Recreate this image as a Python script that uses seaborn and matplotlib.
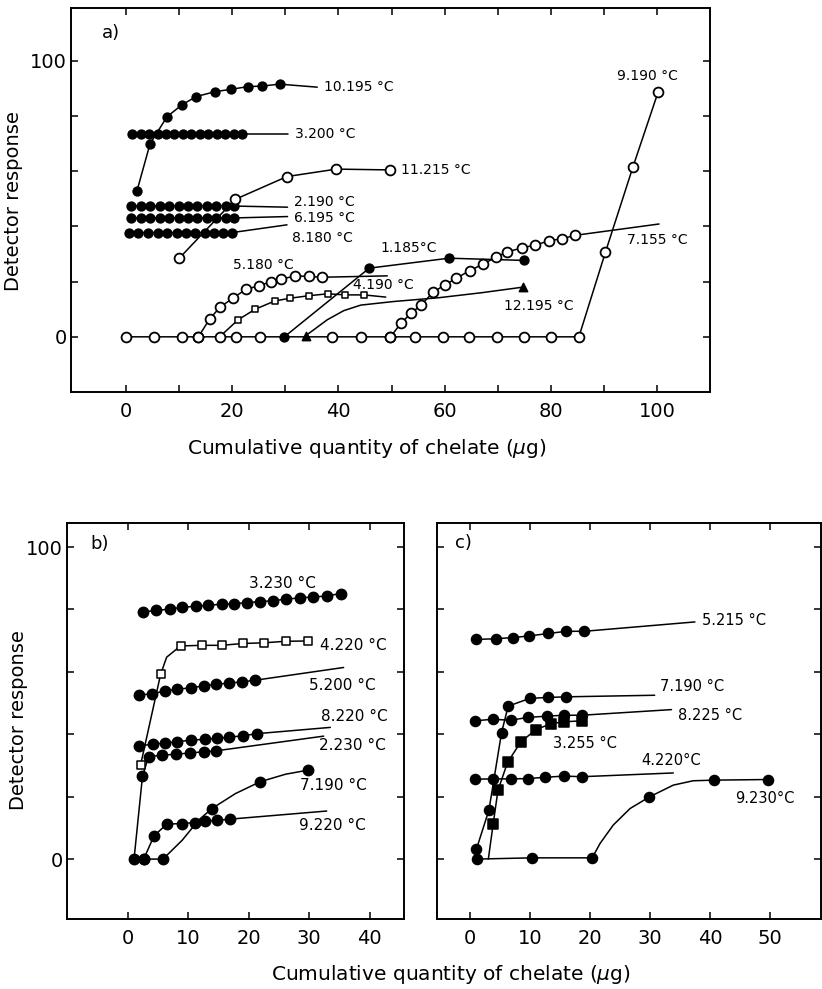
import numpy as np
import pandas as pd
import seaborn as sns
import matplotlib
matplotlib.use("Agg")
import matplotlib.pyplot as plt

# ---------------- data : panel a ----------------
A_10195_X = [2.0, 4.5, 7.7, 10.5, 13.2, 16.8, 19.7, 22.9, 25.6, 28.9]
A_10195_Y = [52.7, 70.0, 79.8, 84.1, 87.1, 88.9, 89.7, 90.7, 90.9, 91.6]
A_10195_TAIL = (36.0, 90.5)

A_3200_X = [1.1, 2.7, 4.3, 5.9, 7.5, 9.1, 10.7, 12.3, 13.9, 15.5, 17.1, 18.7, 20.3, 21.8]
A_3200_Y = [73.4, 73.4, 73.4, 73.4, 73.4, 73.4, 73.4, 73.4, 73.4, 73.4, 73.4, 73.4, 73.4, 73.4]
A_3200_TAIL = (30.4, 73.4)

A_2190_X = [0.9, 2.7, 4.5, 6.3, 8.1, 9.9, 11.7, 13.4, 15.2, 17.0, 18.8, 20.4]
A_2190_Y = [47.4, 47.4, 47.4, 47.4, 47.4, 47.4, 47.4, 47.4, 47.4, 47.4, 47.4, 47.4]
A_2190_TAIL = (30.4, 47.0)

A_6195_X = [0.9, 2.7, 4.5, 6.3, 8.1, 9.9, 11.7, 13.4, 15.2, 17.0, 18.8, 20.4]
A_6195_Y = [43.1, 43.1, 43.1, 43.1, 43.1, 43.1, 43.1, 43.1, 43.1, 43.1, 43.1, 43.1]
A_6195_TAIL = (30.4, 43.6)

A_8180_X = [0.5, 2.3, 4.1, 5.9, 7.7, 9.5, 11.3, 13.0, 14.8, 16.6, 18.3, 20.0]
A_8180_Y = [37.8, 37.8, 37.8, 37.8, 37.8, 37.8, 37.8, 37.8, 37.8, 37.8, 37.8, 37.8]
A_8180_TAIL = (30.3, 40.6)

A_11215_X = [10.0, 20.5, 30.3, 39.6, 49.8]
A_11215_Y = [28.5, 49.8, 58.1, 60.8, 60.5]

A_9190_X = [0.0, 5.2, 10.5, 13.6, 17.6, 20.7, 25.3, 38.8, 44.3, 49.8, 54.5, 59.6,
            64.6, 69.8, 75.0, 80.1, 85.3, 90.3, 95.5, 100.2]
A_9190_Y = [0, 0, 0, 0, 0, 0, 0, 0, 0, 0, 0, 0, 0, 0, 0, 0, 0, 30.7, 61.7, 88.6]

A_5180_X = [13.6, 15.7, 17.7, 20.1, 22.6, 25.1, 27.2, 29.2, 31.9, 34.4, 36.9]
A_5180_Y = [0.0, 6.4, 10.8, 14.0, 17.3, 18.5, 20.0, 20.9, 22.1, 21.9, 21.6]
A_5180_TAIL = (49.2, 22.1)

A_4190_X = [21.1, 24.3, 28.0, 30.9, 34.4, 38.0, 41.3, 44.8]
A_4190_Y = [6.2, 10.0, 13.0, 14.0, 14.9, 15.6, 15.2, 15.2]
A_4190_LX = [17.6, 21.1, 24.3, 28.0, 30.9, 34.4, 38.0, 41.3, 44.8]
A_4190_LY = [0.0, 6.2, 10.0, 13.0, 14.0, 14.9, 15.6, 15.2, 15.2]
A_4190_TAIL = (48.9, 14.4)

A_1185_X = [29.8, 45.8, 60.8, 75.0]
A_1185_Y = [0.0, 24.9, 28.5, 27.7]

A_12195_X = [33.8, 74.7]
A_12195_Y = [0.4, 18.0]
A_12195_LX = [33.8, 35.3, 37.9, 41.0, 44.2, 50.4, 59.0, 67.0, 74.7]
A_12195_LY = [0.4, 2.5, 6.2, 9.5, 11.5, 12.8, 14.2, 16.0, 18.0]

A_7155_X = [49.8, 51.8, 53.7, 55.6, 57.8, 60.0, 62.2, 64.7, 67.3, 69.6, 71.8, 74.5,
            77.1, 79.7, 82.2, 84.6]
A_7155_Y = [0.0, 5.0, 8.6, 11.6, 16.1, 18.8, 21.2, 24.0, 26.4, 28.8, 30.8, 32.2,
            33.3, 34.8, 35.6, 36.8]
A_7155_TAIL = (100.4, 40.9)

# ---------------- data : panel b ----------------
B_3230_X = [2.5, 4.7, 6.9, 9.0, 11.2, 13.3, 15.5, 17.5, 19.7, 21.9, 24.0, 26.2,
            28.4, 30.7, 32.9, 35.2]
B_3230_Y = [79.2, 79.7, 80.1, 80.7, 81.0, 81.3, 81.7, 81.8, 82.2, 82.5, 82.8, 83.3,
            83.7, 84.0, 84.3, 85.1]

B_4220_X = [2.1, 5.4, 8.7, 12.2, 15.5, 19.1, 22.5, 26.1, 29.8]
B_4220_Y = [30.3, 59.2, 68.3, 68.5, 68.5, 69.1, 69.3, 69.8, 69.9]
B_4220_LX = [2.1, 5.4, 6.4, 8.7, 12.2, 15.5, 19.1, 22.5, 26.1, 29.8]
B_4220_LY = [30.3, 59.2, 64.7, 68.3, 68.5, 68.5, 69.1, 69.3, 69.8, 69.9]

B_5200_X = [1.8, 3.9, 6.1, 8.1, 10.4, 12.6, 14.6, 16.7, 18.9, 21.0]
B_5200_Y = [52.5, 53.0, 53.8, 54.4, 54.9, 55.5, 56.0, 56.4, 56.8, 57.3]
B_5200_TAIL = (35.7, 61.4)

B_8220_X = [1.9, 4.1, 6.2, 8.1, 10.4, 12.7, 14.8, 16.8, 19.0, 21.4]
B_8220_Y = [36.3, 36.8, 37.2, 37.6, 38.1, 38.4, 38.7, 39.1, 39.5, 40.2]
B_8220_TAIL = (33.5, 42.2)

B_2230_X = [1.0, 2.4, 3.4, 5.7, 7.9, 10.2, 12.6, 14.6]
B_2230_Y = [0.0, 26.6, 32.8, 33.3, 33.6, 34.0, 34.4, 34.7]
B_2230_TAIL = (32.4, 39.4)

B_7190_X = [2.6, 5.8, 13.9, 21.9, 29.8]
B_7190_Y = [0.0, 0.0, 16.2, 24.8, 28.5]
B_7190_LX = [2.6, 5.8, 9.0, 11.7, 13.9, 17.8, 21.9, 26.1, 29.8]
B_7190_LY = [0.0, 0.0, 6.1, 12.5, 16.2, 21.0, 24.8, 27.2, 28.5]

B_9220_X = [2.6, 4.3, 6.4, 9.0, 11.1, 12.8, 14.8, 16.9]
B_9220_Y = [0.0, 7.4, 11.2, 11.4, 11.7, 12.2, 12.4, 12.8]
B_9220_TAIL = (32.9, 15.4)

# ---------------- data : panel c ----------------
C_5215_X = [1.1, 4.3, 7.2, 9.9, 13.1, 16.1, 19.1]
C_5215_Y = [70.4, 70.6, 71.0, 71.5, 72.3, 73.0, 73.0]
C_5215_TAIL = (37.5, 76.0)

C_7190_X = [1.1, 3.2, 5.3, 6.4, 10.0, 13.1, 16.1]
C_7190_Y = [3.1, 15.7, 40.5, 49.0, 51.5, 51.8, 52.0]
C_7190_TAIL = (30.8, 52.5)

C_8225_X = [0.8, 3.8, 6.8, 9.7, 12.8, 15.7, 18.7]
C_8225_Y = [44.3, 44.8, 44.5, 45.4, 45.8, 46.1, 46.1]
C_8225_TAIL = (33.6, 47.9)

C_3255_X = [3.9, 4.7, 6.3, 8.5, 11.0, 13.6, 15.7, 18.7]
C_3255_Y = [11.2, 22.0, 31.0, 37.5, 41.5, 43.4, 44.0, 44.3]
C_3255_LX = [3.1, 3.9, 4.7, 6.3, 8.5, 11.0, 13.6, 15.7, 18.7]
C_3255_LY = [0.0, 11.2, 22.0, 31.0, 37.5, 41.5, 43.4, 44.0, 44.3]

C_4220_X = [0.8, 3.8, 6.8, 9.7, 12.5, 15.7, 18.7]
C_4220_Y = [25.6, 25.7, 25.7, 25.8, 26.2, 26.6, 26.4]
C_4220_TAIL = (33.9, 27.6)

C_9230_X = [1.2, 10.4, 20.4, 29.9, 40.7, 49.7]
C_9230_Y = [0.0, 0.4, 0.4, 19.9, 25.3, 25.5]
C_9230_LX = [1.2, 10.4, 20.4, 21.7, 23.9, 26.7, 29.9, 33.9, 37.2, 40.7, 49.7]
C_9230_LY = [0.0, 0.4, 0.4, 5.0, 10.9, 16.2, 19.9, 23.7, 25.1, 25.3, 25.5]

# tick labels
A_XTICKS = [0, 10, 20, 30, 40, 50, 60, 70, 80, 90, 100]
A_XTICKLABELS = ["0", "", "20", "", "40", "", "60", "", "80", "", "100"]
Y_TICKS = [0, 20, 40, 60, 80, 100]
Y_TICKLABELS = ["0", "", "", "", "", "100"]
B_XTICKS = [0, 10, 20, 30, 40]
C_XTICKS = [0, 10, 20, 30, 40, 50]

# ---------------- style ----------------
sns.set_theme(style="ticks")
plt.rcParams.update({
    "font.family": ["DejaVu Sans"],
    "axes.edgecolor": "black",
    "axes.linewidth": 1.4,
    "text.color": "black",
    "axes.labelcolor": "black",
    "xtick.color": "black",
    "ytick.color": "black",
    "xtick.direction": "in",
    "ytick.direction": "in",
    "xtick.top": True,
    "ytick.right": True,
    "xtick.major.size": 5,
    "ytick.major.size": 5,
    "xtick.major.width": 1.1,
    "ytick.major.width": 1.1,
    "xtick.major.pad": 7,
    "ytick.major.pad": 3,
    "xtick.labelsize": 14,
    "ytick.labelsize": 14,
})

W, H = 822, 989
fig = plt.figure(figsize=(W / 100, H / 100), dpi=100)


def rect(l, r, t, b):
    return [l / W, 1 - b / H, (r - l) / W, (b - t) / H]


axA = fig.add_axes(rect(71, 710, 8, 392))
axB = fig.add_axes(rect(67, 404, 523, 919))
axC = fig.add_axes(rect(437, 821, 523, 919))

LW = 1.1


def draw(ax, x, y, marker, fill, size, lx=None, ly=None, tail=None, mew=1.1):
    line_x = list(lx if lx is not None else x)
    line_y = list(ly if ly is not None else y)
    if tail is not None:
        line_x.append(tail[0])
        line_y.append(tail[1])
    sns.lineplot(x=line_x, y=line_y, sort=False, estimator=None, color="black",
                 linewidth=LW, ax=ax, zorder=2)
    sns.scatterplot(x=x, y=y, marker=marker, s=size,
                    color=("black" if fill else "white"), edgecolor="black",
                    linewidth=mew, ax=ax, zorder=3, legend=False)


def label(ax, x, y, s, fs):
    ax.text(x, y, s, fontsize=fs, va="center", ha="left", zorder=4)


# ---------------- panel a ----------------
fa = 10
FC, OC = 40, 50
draw(axA, A_9190_X, A_9190_Y, "o", False, OC, mew=1.3)
draw(axA, A_10195_X, A_10195_Y, "o", True, FC, tail=A_10195_TAIL)
draw(axA, A_3200_X, A_3200_Y, "o", True, FC, tail=A_3200_TAIL)
draw(axA, A_2190_X, A_2190_Y, "o", True, FC, tail=A_2190_TAIL)
draw(axA, A_6195_X, A_6195_Y, "o", True, FC, tail=A_6195_TAIL)
draw(axA, A_8180_X, A_8180_Y, "o", True, FC, tail=A_8180_TAIL)
draw(axA, A_11215_X, A_11215_Y, "o", False, OC, mew=1.3)
draw(axA, A_5180_X, A_5180_Y, "o", False, OC, tail=A_5180_TAIL, mew=1.3)
draw(axA, A_4190_X, A_4190_Y, "s", False, 18, lx=A_4190_LX, ly=A_4190_LY, tail=A_4190_TAIL)
draw(axA, A_1185_X, A_1185_Y, "o", True, FC)
draw(axA, A_12195_X, A_12195_Y, "^", True, 36, lx=A_12195_LX, ly=A_12195_LY)
draw(axA, A_7155_X, A_7155_Y, "o", False, OC, tail=A_7155_TAIL, mew=1.3)

label(axA, 37.2, 90.5, "10.195 °C", fa)
label(axA, 31.8, 73.4, "3.200 °C", fa)
label(axA, 51.8, 60.3, "11.215 °C", fa)
label(axA, 31.6, 48.8, "2.190 °C", fa)
label(axA, 31.6, 43.2, "6.195 °C", fa)
label(axA, 31.3, 36.0, "8.180 °C", fa)
label(axA, 20.2, 26.0, "5.180 °C", fa)
label(axA, 47.9, 32.2, "1.185°C", fa)
label(axA, 42.7, 18.8, "4.190 °C", fa)
label(axA, 71.2, 11.2, "12.195 °C", fa)
label(axA, 94.3, 35.1, "7.155 °C", fa)
label(axA, 92.4, 94.5, "9.190 °C", fa)
axA.text(-4.6, 110, "a)", fontsize=13, va="center", ha="left")

axA.set_xlim(-10.4, 110)
axA.set_ylim(-20, 119.2)
axA.set_xticks(A_XTICKS)
axA.set_xticklabels(A_XTICKLABELS)
axA.set_yticks(Y_TICKS)
axA.set_yticklabels(Y_TICKLABELS)

# ---------------- panel b ----------------
fb = 11
FB = 55
draw(axB, B_3230_X, B_3230_Y, "o", True, FB)
draw(axB, B_5200_X, B_5200_Y, "o", True, FB, tail=B_5200_TAIL)
draw(axB, B_8220_X, B_8220_Y, "o", True, FB, tail=B_8220_TAIL)
draw(axB, B_2230_X, B_2230_Y, "o", True, FB, tail=B_2230_TAIL)
draw(axB, B_7190_X, B_7190_Y, "o", True, FB, lx=B_7190_LX, ly=B_7190_LY)
draw(axB, B_9220_X, B_9220_Y, "o", True, FB, tail=B_9220_TAIL)
draw(axB, B_4220_X, B_4220_Y, "s", False, 26, lx=B_4220_LX, ly=B_4220_LY)

label(axB, 20.0, 88.3, "3.230 °C", fb)
label(axB, 31.8, 68.5, "4.220 °C", fb)
label(axB, 29.9, 55.7, "5.200 °C", fb)
label(axB, 32.0, 45.6, "8.220 °C", fb)
label(axB, 31.6, 36.5, "2.230 °C", fb)
label(axB, 28.5, 23.7, "7.190 °C", fb)
label(axB, 28.3, 10.9, "9.220 °C", fb)
axB.text(-6.2, 101, "b)", fontsize=13, va="center", ha="left")

axB.set_xlim(-10.1, 45.7)
axB.set_ylim(-19.2, 107.7)
axB.set_xticks(B_XTICKS)
axB.set_yticks(Y_TICKS)
axB.set_yticklabels(Y_TICKLABELS)

# ---------------- panel c ----------------
fc = 10.5
FCc = 52
draw(axC, C_5215_X, C_5215_Y, "o", True, FCc, tail=C_5215_TAIL)
draw(axC, C_7190_X, C_7190_Y, "o", True, FCc, tail=C_7190_TAIL)
draw(axC, C_8225_X, C_8225_Y, "o", True, FCc, tail=C_8225_TAIL)
draw(axC, C_4220_X, C_4220_Y, "o", True, FCc, tail=C_4220_TAIL)
draw(axC, C_9230_X, C_9230_Y, "o", True, FCc, lx=C_9230_LX, ly=C_9230_LY)
draw(axC, C_3255_X, C_3255_Y, "s", True, 42, lx=C_3255_LX, ly=C_3255_LY)

label(axC, 38.6, 76.5, "5.215 °C", fc)
label(axC, 31.7, 55.2, "7.190 °C", fc)
label(axC, 34.7, 46.1, "8.225 °C", fc)
label(axC, 13.9, 37.2, "3.255 °C", fc)
label(axC, 28.6, 31.7, "4.220°C", fc)
label(axC, 44.2, 19.4, "9.230°C", fc)
axC.text(-2.5, 101.3, "c)", fontsize=13, va="center", ha="left")

axC.set_xlim(-5.45, 58.5)
axC.set_ylim(-19.2, 107.7)
axC.set_xticks(C_XTICKS)
axC.set_yticks(Y_TICKS)
axC.set_yticklabels([])

for ax in (axA, axB, axC):
    ax.set_xlabel("")
    ax.set_ylabel("")

# axis titles
fig.text(367 / W, 1 - 449 / H, "Cumulative quantity of chelate ($\\mu$g)",
         fontsize=14.5, ha="center", va="center")
fig.text(451 / W, 1 - 975 / H, "Cumulative quantity of chelate ($\\mu$g)",
         fontsize=14.5, ha="center", va="center")
fig.text(14 / W, 1 - 201 / H, "Detector response", fontsize=14,
         rotation=90, ha="center", va="center")
fig.text(18 / W, 1 - 720 / H, "Detector response", fontsize=14,
         rotation=90, ha="center", va="center")

fig.savefig("out.png", dpi=100)
